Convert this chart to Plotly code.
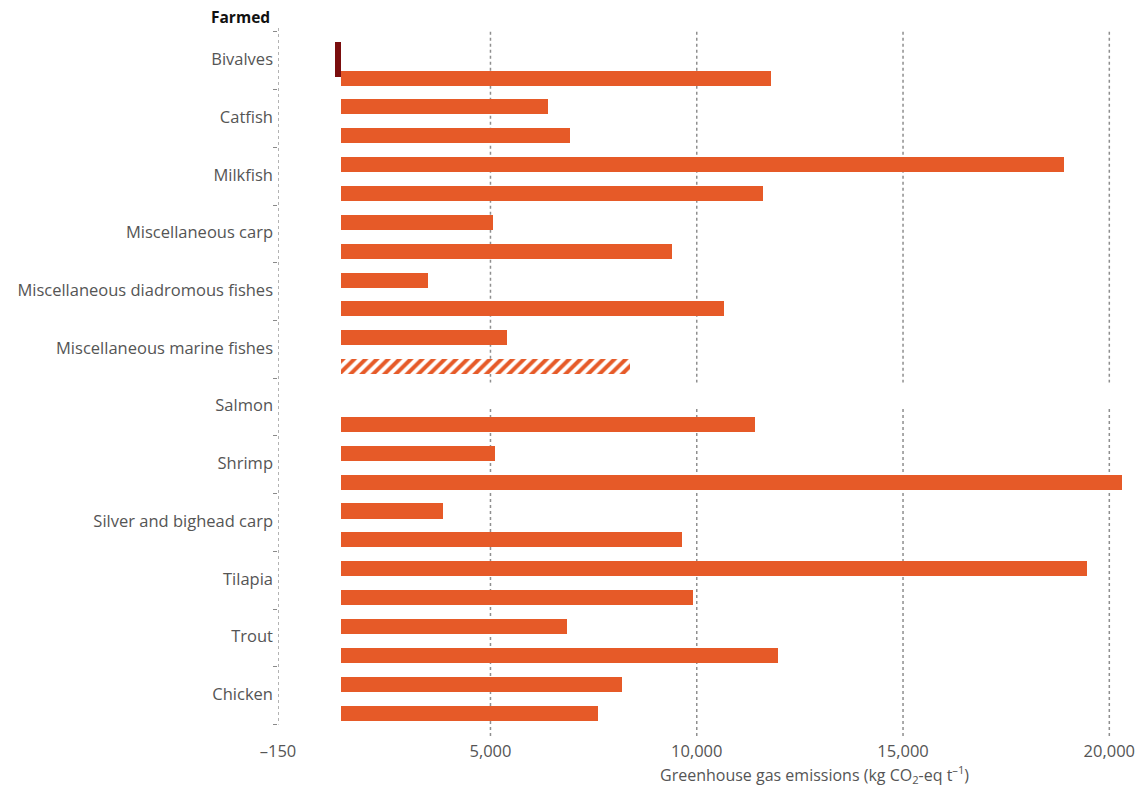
import plotly.graph_objects as go

# ---------------- data ----------------
categories = ["Bivalves", "Catfish", "Milkfish", "Miscellaneous carp",
              "Miscellaneous diadromous fishes", "Miscellaneous marine fishes",
              "Salmon", "Shrimp", "Silver and bighead carp", "Tilapia",
              "Trout", "Chicken"]
# first bar of each pair (None = no bar)
upper_values = [None, 6400, 18900, 5070, 3480, 5410, None, 5120, 3860, 19470, 6860, 8190]
# second bar of each pair
lower_values = [11800, 6930, 11600, 9400, 10650, 8380, 11400, 20310, 9640, 9920, 11960, 7610]
lower_hatched = [False, False, False, False, False, True, False, False, False, False, False, False]
# negative (sequestration) value shown as dark bar
dark_category = "Bivalves"
dark_value = -150
bar_origin = 1380          # where the bars start on the axis
tick_values = [-150, 5000, 10000, 15000, 20000]
tick_labels = ["\u2013150", "5,000", "10,000", "15,000", "20,000"]

ORANGE = "#E65A28"
DARK = "#7A0E0E"
GREY_TXT = "#555555"
GRID = "#8f8f8f"
FONT = "Open Sans"

n = len(categories)
upper_rows = [2 * i - 1 for i in range(n)]
lower_rows = [2 * i for i in range(n)]
label_rows = [2 * i - 0.65 for i in range(n)]
boundary_rows = [2 * i - 1.6 for i in range(n + 1)]

fig = go.Figure()

# upper bars
uy = [r for r, v in zip(upper_rows, upper_values) if v is not None]
ux = [v - bar_origin for v in upper_values if v is not None]
fig.add_trace(go.Bar(y=uy, x=ux, base=bar_origin, orientation="h", width=0.52,
                     marker=dict(color=ORANGE, line=dict(width=0)), showlegend=False))

# lower bars (solid)
ly = [r for r, v, h in zip(lower_rows, lower_values, lower_hatched) if v is not None and not h]
lx = [v - bar_origin for v, h in zip(lower_values, lower_hatched) if v is not None and not h]
fig.add_trace(go.Bar(y=ly, x=lx, base=bar_origin, orientation="h", width=0.52,
                     marker=dict(color=ORANGE, line=dict(width=0)), showlegend=False))

# lower bars (hatched)
hy = [r for r, v, h in zip(lower_rows, lower_values, lower_hatched) if v is not None and h]
hx = [v - bar_origin for v, h in zip(lower_values, lower_hatched) if v is not None and h]
fig.add_trace(go.Bar(y=hy, x=hx, base=bar_origin, orientation="h", width=0.52,
                     marker=dict(color=ORANGE, line=dict(width=0),
                                 pattern=dict(shape="/", fgcolor=ORANGE, bgcolor="white",
                                              fgopacity=1, fillmode="replace",
                                              size=8, solidity=0.5)),
                     showlegend=False))

# dark negative bar
di = categories.index(dark_category)
fig.add_trace(go.Bar(y=[label_rows[di]], x=[dark_value], base=bar_origin, orientation="h",
                     width=1.2, marker=dict(color=DARK, line=dict(width=0)), showlegend=False))

# ---------------- axes / layout ----------------
y_top = -1.733
y_bottom = 22.83
salmon_gap = upper_rows[categories.index("Salmon")]
gap_lo, gap_hi = salmon_gap - 0.45, salmon_gap + 0.47

shapes = []
for tv in tick_values[1:]:
    for (a, b) in [(boundary_rows[0], gap_lo), (gap_hi, y_bottom)]:
        shapes.append(dict(type="line", xref="x", yref="y", x0=tv, x1=tv, y0=a, y1=b,
                           line=dict(color=GRID, width=1.5, dash="dot"), layer="below"))
# left dotted axis line
shapes.append(dict(type="line", xref="x", yref="y", x0=tick_values[0], x1=tick_values[0],
                   y0=y_top, y1=boundary_rows[-1],
                   line=dict(color="#8a8a8a", width=1.3, dash="dot"), layer="below"))

fig.update_layout(
    width=1145, height=787,
    margin=dict(l=278, r=10, t=28, b=50),
    plot_bgcolor="white", paper_bgcolor="white",
    bargap=0,
    shapes=shapes,
    font=dict(family=FONT, color=GREY_TXT, size=16),
    xaxis=dict(range=[-150, 20550], tickmode="array", tickvals=tick_values,
               ticktext=tick_labels, showgrid=False, zeroline=False, showline=False,
               ticks="", ticklabelstandoff=2,
               tickfont=dict(family=FONT, size=16.5, color=GREY_TXT)),
    yaxis=dict(range=[y_bottom, y_top], tickmode="array", tickvals=label_rows,
               ticktext=categories, showgrid=False, zeroline=False, showline=False,
               ticks="", ticklabelstandoff=4,
               tickfont=dict(family=FONT, size=16.5, color=GREY_TXT),
               minor=dict(tickmode="array", tickvals=boundary_rows, ticks="outside",
                          ticklen=4, tickcolor="#8a8a8a", tickwidth=1, showgrid=False)),
    annotations=[
        dict(text="<b>Farmed</b>", xref="paper", yref="paper", x=0, y=1, xanchor="right",
             yanchor="bottom", xshift=-6, yshift=-2, showarrow=False,
             font=dict(family=FONT, size=15.5, color="#111111")),
        dict(text="Greenhouse gas emissions (kg CO<sub>2</sub>-eq t<sup>\u20131</sup>)",
             xref="x", yref="paper", x=12850, y=0, yanchor="top", yshift=-23,
             showarrow=False, font=dict(family=FONT, size=16, color=GREY_TXT)),
    ],
)

fig.write_html("out.html")
